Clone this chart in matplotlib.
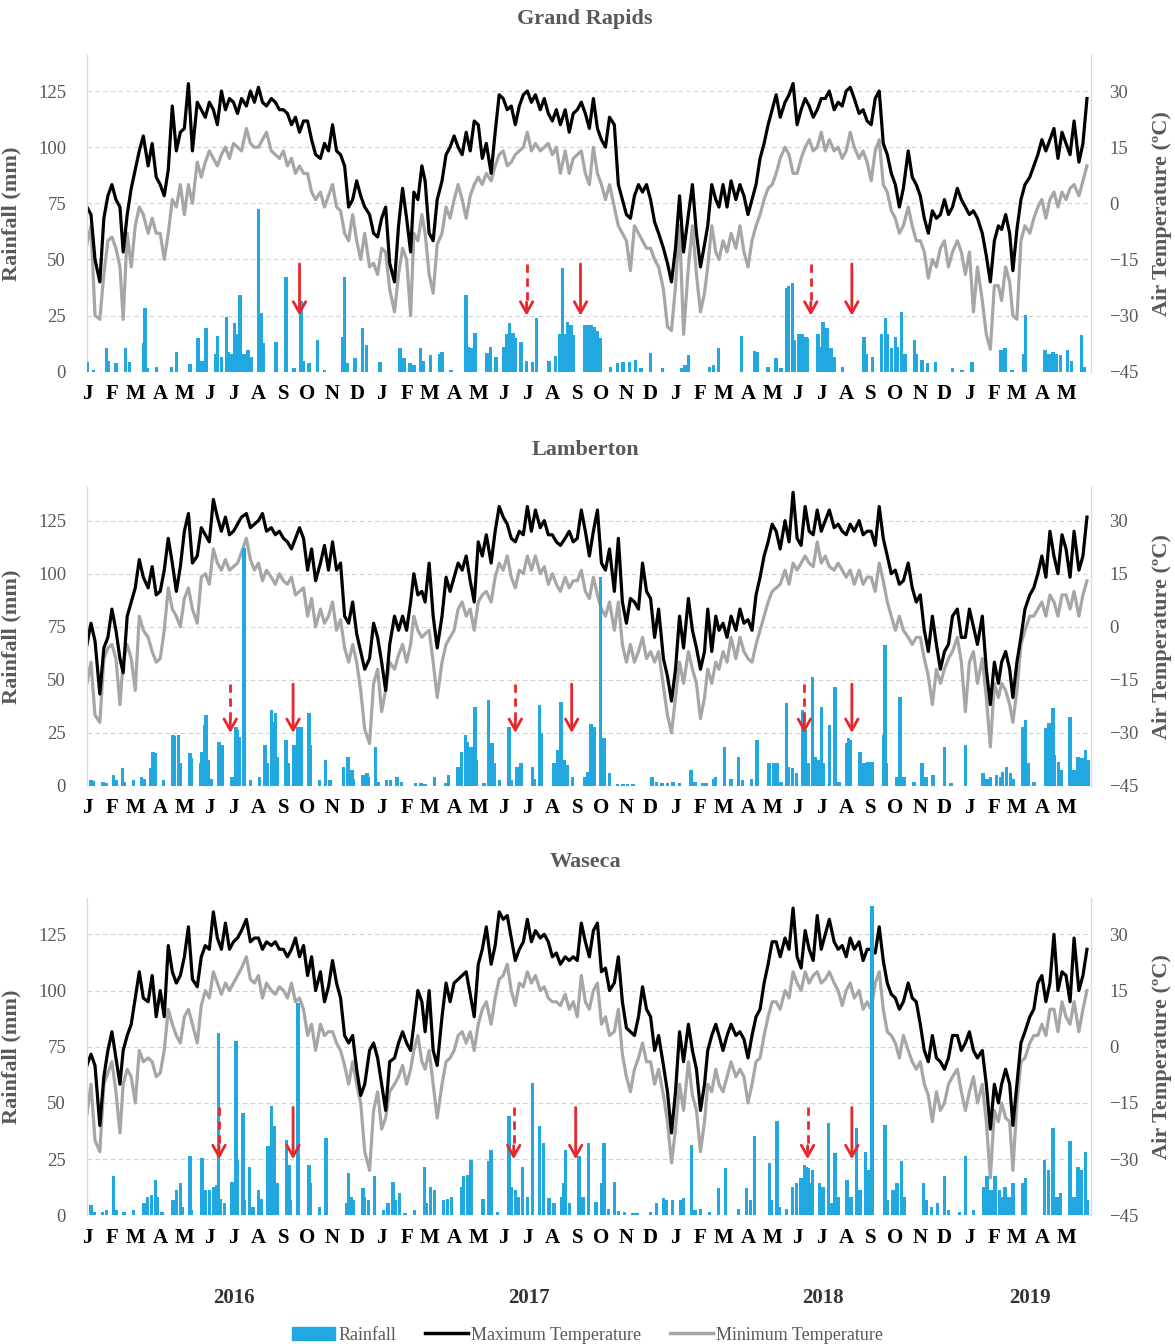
import numpy as np
import pandas as pd
import matplotlib
matplotlib.use('Agg')
import matplotlib.pyplot as plt
import matplotlib.dates as mdates
import matplotlib.transforms as mtrans
from matplotlib.patches import Patch
from matplotlib.lines import Line2D

plt.rcParams['font.family'] = ['Liberation Serif', 'DejaVu Serif']

sites = ['Grand Rapids', 'Lamberton', 'Waseca']
month_letters = list('JFMAMJJASOND')
years = ['2016', '2017', '2018', '2019']

# air temperature (C), 6 readings per month, Jan 2016 .. May 2019
gr_tmax = [-1, -3, -15, -21, -4, 2, 5, 1, -1, -13, -3, 4, 9, 14, 18, 10, 16, 7, 5, 2, 9, 26, 14, 19, 20, 32, 14, 27, 25, 23, 27, 25, 21, 30, 25, 28,
           27, 24, 28, 26, 30, 27, 31, 27, 26, 28, 27, 25, 25, 24, 21, 23, 19, 22, 22, 17, 13, 12, 16, 14, 21, 14, 13, 10, -1, 1, 6, 2, -1, -3, -8, -9,
           -4, -1, -16, -21, -6, 4, -4, -13, 3, 1, 10, 6, -8, -10, 1, 6, 13, 15, 18, 15, 13, 19, 14, 22, 21, 12, 16, 8, 19, 29, 28, 25, 26, 21, 26, 29,
           30, 27, 29, 25, 28, 24, 22, 25, 21, 25, 19, 24, 25, 27, 24, 20, 28, 20, 17, 15, 23, 21, 5, 1, -3, -4, 2, 5, 3, 5, 1, -5, -8, -12, -16, -21,
           -12, 2, -13, -3, 5, -8, -17, -11, -6, 5, 1, -1, 5, -1, 6, 1, 5, 2, -3, 1, 5, 12, 16, 21, 25, 29, 23, 27, 29, 32, 21, 25, 28, 26, 23, 25,
           28, 28, 30, 25, 27, 26, 30, 31, 28, 24, 25, 22, 21, 28, 30, 16, 13, 8, 5, -1, 4, 14, 7, 5, 2, -4, -8, -2, -4, -3, 1, -3, -1, 4, 1, -1,
           -3, -2, -4, -8, -14, -21, -10, -6, -7, -3, -8, -18, -7, 1, 5, 7, 10, 13, 17, 14, 17, 20, 12, 19, 16, 13, 22, 11, 16, 28]
gr_tmin = [-11, -6, -30, -31, -19, -10, -9, -12, -17, -31, -8, -17, -6, -1, -3, -8, -4, -8, -8, -15, -8, 1, -1, 5, -3, 5, 0, 11, 7, 11, 14, 12, 10, 13, 15, 12,
           16, 15, 14, 20, 16, 15, 15, 17, 19, 14, 13, 12, 14, 10, 12, 8, 10, 8, 8, 3, 1, 3, -1, 2, 5, -1, -2, -8, -10, -3, -10, -15, -8, -17, -16, -19,
           -12, -13, -23, -29, -19, -12, -15, -30, -8, -10, -3, -8, -19, -24, -11, -8, -1, -4, 1, 5, 1, -4, 2, 5, 7, 5, 8, 6, 10, 13, 14, 10, 11, 13, 14, 15,
           19, 14, 16, 14, 15, 16, 13, 15, 8, 14, 8, 12, 13, 14, 8, 5, 15, 8, 5, 1, 5, -1, -6, -8, -10, -18, -6, -8, -10, -12, -12, -15, -17, -23, -33, -34,
           -22, -6, -35, -17, -6, -19, -29, -24, -17, -6, -13, -15, -10, -13, -8, -12, -6, -13, -17, -10, -6, -3, 1, 4, 5, 8, 12, 15, 13, 8, 8, 12, 15, 17, 14, 15,
           19, 14, 17, 14, 15, 12, 14, 19, 15, 12, 14, 11, 6, 14, 17, 5, 3, -2, -4, -8, -6, -1, -6, -10, -10, -13, -20, -15, -17, -12, -10, -17, -13, -10, -13, -19,
           -13, -29, -17, -26, -35, -39, -22, -22, -26, -17, -21, -30, -31, -10, -6, -8, -4, -1, 1, -4, 1, 3, -1, 3, 1, 4, 5, 2, 6, 10]

lam_tmax = [-5, 1, -4, -19, -6, -3, 5, -1, -9, -13, 3, 7, 11, 19, 14, 11, 17, 9, 10, 16, 25, 18, 10, 17, 27, 32, 18, 20, 28, 26, 24, 36, 31, 27, 31, 26,
            27, 29, 31, 32, 28, 29, 30, 32, 27, 28, 26, 27, 25, 24, 22, 25, 28, 25, 16, 22, 13, 18, 23, 16, 24, 16, 18, 3, 1, 7, -2, -7, -12, -9, 1, -3,
            -10, -18, -5, 3, -1, 3, -1, 7, 15, 9, 10, 7, 18, 3, -6, 3, 14, 10, 14, 18, 16, 20, 13, 7, 24, 20, 26, 18, 27, 34, 31, 29, 25, 24, 27, 26,
            34, 27, 33, 28, 30, 26, 26, 24, 23, 25, 27, 24, 25, 33, 27, 20, 27, 33, 18, 16, 22, 10, 25, 7, 1, 8, 7, 5, 18, 10, 8, -3, 5, -9, -14, -21,
            -12, 3, -6, 8, -1, -6, -12, -7, 5, -7, 3, -1, 1, -3, 3, -1, 5, 1, 2, -1, 9, 14, 20, 24, 29, 27, 22, 30, 24, 38, 25, 23, 34, 27, 26, 33,
            27, 30, 33, 28, 29, 27, 26, 29, 27, 30, 26, 27, 27, 23, 34, 25, 20, 15, 16, 12, 13, 18, 11, 7, 9, -1, -7, 3, -5, -12, -7, -5, 3, 5, -3, -3,
            5, 0, -5, 3, -12, -22, -10, -16, -10, -7, -12, -20, -10, -3, 5, 9, 11, 15, 20, 14, 27, 20, 15, 26, 22, 14, 27, 16, 20, 31]
lam_tmin = [-16, -10, -25, -27, -9, -6, -5, -9, -22, -10, -5, -9, -18, 3, -1, -3, -7, -10, -9, -1, 11, 5, 3, 0, 8, 11, 5, 1, 14, 15, 12, 22, 18, 16, 19, 16,
            17, 18, 21, 25, 19, 16, 18, 13, 16, 14, 12, 15, 13, 12, 14, 9, 10, 11, 3, 8, 0, 5, 1, 3, 7, -1, 2, -6, -10, -5, -10, -18, -29, -33, -16, -12,
            -24, -18, -10, -12, -8, -5, -10, -5, 3, -1, -3, -2, -1, -10, -20, -10, -5, -3, -1, 5, 7, 3, 5, -1, 7, 9, 10, 7, 14, 18, 16, 20, 14, 11, 16, 15,
            20, 16, 20, 15, 17, 12, 15, 12, 10, 14, 11, 13, 13, 16, 10, 8, 14, 9, 5, 3, 7, -1, 7, -5, -10, -5, -10, -7, -3, -9, -7, -10, -7, -17, -25, -30,
            -20, -10, -16, -7, -12, -16, -26, -20, -12, -16, -10, -12, -7, -10, -3, -9, -3, -7, -9, -10, -5, -1, 3, 7, 10, 11, 12, 16, 12, 18, 16, 18, 20, 18, 17, 24,
            18, 20, 17, 16, 18, 16, 14, 16, 12, 16, 12, 14, 14, 10, 18, 13, 7, 3, -1, 3, -1, -3, -5, -3, -3, -9, -14, -22, -12, -16, -12, -9, -7, -3, -10, -24,
            -10, -7, -16, -9, -20, -34, -16, -20, -16, -18, -22, -27, -18, -5, -1, 3, 3, 5, 7, 3, 9, 7, 3, 9, 9, 5, 10, 3, 9, 13]

was_tmax = [-5, -2, -5, -21, -8, -1, 4, -3, -10, -1, 3, 6, 13, 20, 13, 12, 19, 8, 15, 8, 27, 20, 17, 19, 24, 32, 18, 16, 24, 27, 26, 36, 29, 26, 33, 26,
            28, 29, 31, 34, 28, 29, 29, 26, 28, 27, 28, 26, 26, 24, 26, 29, 24, 27, 19, 24, 15, 20, 12, 16, 23, 17, 13, 3, 1, 3, -6, -13, -10, -1, 1, -3,
            -10, -17, -4, -3, 1, 4, 1, -1, 6, 15, 12, 4, 15, -1, -5, 8, 17, 12, 17, 18, 19, 20, 14, 8, 22, 26, 32, 22, 27, 36, 34, 35, 29, 23, 26, 28,
            34, 28, 31, 29, 30, 28, 24, 25, 22, 24, 23, 24, 23, 33, 28, 24, 31, 33, 20, 21, 15, 17, 24, 12, 5, 4, 3, 8, 16, 10, 8, -1, 3, -5, -12, -23,
            -12, 4, -4, 6, -1, -6, -17, -10, -1, 3, 6, 3, -1, 3, 6, 3, 4, 2, -3, 3, 8, 10, 17, 22, 28, 28, 24, 29, 26, 37, 24, 21, 31, 26, 23, 35,
            26, 30, 34, 28, 26, 27, 24, 29, 26, 28, 23, 26, 26, 25, 32, 23, 17, 14, 13, 10, 12, 17, 13, 12, 6, -1, -4, 3, -3, -4, -6, -3, 3, 3, -1, 1,
            4, -1, -3, -1, -10, -22, -10, -15, -10, -6, -10, -21, -10, 1, 4, 8, 10, 17, 19, 12, 17, 30, 15, 20, 19, 12, 29, 15, 19, 26]
was_tmin = [-18, -10, -25, -28, -10, -7, -4, -12, -23, -10, -6, -8, -15, -1, -4, -3, -4, -8, -7, -1, 10, 6, 3, 1, 8, 10, 6, 1, 11, 15, 13, 20, 17, 14, 17, 15,
            17, 19, 21, 24, 18, 17, 19, 13, 17, 15, 14, 16, 15, 13, 17, 12, 13, 10, 3, 6, -1, 6, 3, 4, 4, 1, -1, -5, -10, -4, -10, -15, -28, -33, -17, -12,
            -22, -19, -12, -10, -8, -5, -10, -6, -1, 3, -4, -6, -1, -10, -19, -10, -4, -3, -1, 3, 4, 1, 4, -1, 6, 10, 12, 6, 13, 18, 19, 22, 15, 11, 17, 16,
            20, 17, 19, 15, 16, 13, 12, 12, 11, 14, 10, 12, 8, 19, 12, 10, 15, 17, 6, 8, 3, 4, 10, -2, -8, -12, -6, -3, 1, -4, -4, -10, -6, -13, -20, -31,
            -22, -10, -17, -4, -13, -17, -28, -20, -10, -12, -6, -10, -12, -8, -4, -8, -6, -8, -15, -10, -4, -3, 3, 8, 12, 12, 10, 15, 13, 20, 17, 15, 20, 17, 19, 20,
            17, 18, 20, 17, 15, 11, 15, 17, 13, 15, 10, 12, 10, 17, 20, 10, 4, 3, 1, -3, 3, -1, -4, -6, -4, -10, -13, -20, -12, -17, -15, -10, -8, -6, -12, -17,
            -12, -8, -15, -10, -20, -35, -17, -20, -15, -19, -20, -33, -15, -4, -3, 1, 3, 3, 6, 3, 10, 10, 4, 12, 8, 6, 12, 4, 10, 15]

# daily rainfall events (date, mm)
gr_rain = [('2016-01-02', 4.5), ('2016-01-09', 1), ('2016-01-25', 10.4), ('2016-01-27', 5), ('2016-02-06', 3.7), ('2016-02-18', 10.4),
           ('2016-02-23', 4.5), ('2016-03-11', 12.6), ('2016-03-13', 28.3), ('2016-03-16', 1.5), ('2016-03-27', 2.2), ('2016-04-15', 2),
           ('2016-04-21', 9), ('2016-05-08', 3.4), ('2016-05-18', 15), ('2016-05-22', 5), ('2016-05-26', 5), ('2016-05-28', 19.4),
           ('2016-06-09', 8), ('2016-06-11', 16), ('2016-06-16', 6.7), ('2016-06-22', 24.6), ('2016-06-25', 9), ('2016-06-28', 8),
           ('2016-07-02', 21.6), ('2016-07-05', 17), ('2016-07-09', 34.2), ('2016-07-14', 8), ('2016-07-19', 9.7), ('2016-07-23', 6.7),
           ('2016-08-01', 72.5), ('2016-08-04', 26), ('2016-08-07', 12.6), ('2016-08-23', 13.4), ('2016-09-04', 42.4), ('2016-09-14', 1.5),
           ('2016-09-23', 31.3), ('2016-09-26', 5), ('2016-10-03', 3.7), ('2016-10-13', 14), ('2016-10-22', 1), ('2016-11-14', 15.6),
           ('2016-11-16', 42.4), ('2016-11-19', 4), ('2016-11-29', 6), ('2016-12-08', 19.4), ('2016-12-13', 12), ('2016-12-30', 4.5),
           ('2017-01-24', 10.4), ('2017-01-29', 6), ('2017-02-05', 3.7), ('2017-02-10', 3), ('2017-02-18', 10.4), ('2017-02-22', 5),
           ('2017-03-03', 7.4), ('2017-03-14', 7.9), ('2017-03-17', 9), ('2017-03-28', 1), ('2017-04-16', 34.2), ('2017-04-19', 11),
           ('2017-04-23', 10.4), ('2017-04-27', 17.1), ('2017-05-12', 8.2), ('2017-05-16', 11), ('2017-05-23', 6.7), ('2017-06-02', 11),
           ('2017-06-05', 17), ('2017-06-09', 21.6), ('2017-06-13', 17.1), ('2017-06-16', 15), ('2017-06-23', 13.4), ('2017-06-30', 5),
           ('2017-07-07', 4.5), ('2017-07-12', 23.8), ('2017-07-28', 5), ('2017-08-05', 7), ('2017-08-10', 17), ('2017-08-14', 46),
           ('2017-08-17', 17), ('2017-08-20', 22.3), ('2017-08-24', 20.8), ('2017-08-27', 16.4), ('2017-09-10', 21), ('2017-09-14', 21),
           ('2017-09-18', 21), ('2017-09-22', 20), ('2017-09-26', 18), ('2017-09-30', 15), ('2017-10-12', 2.2), ('2017-10-21', 4),
           ('2017-10-28', 4.5), ('2017-11-05', 4.5), ('2017-11-12', 5.2), ('2017-11-19', 1.5), ('2017-12-01', 8.2), ('2017-12-16', 1.5),
           ('2018-01-09', 1.5), ('2018-01-13', 3), ('2018-01-17', 7.4), ('2018-02-12', 2), ('2018-02-17', 3), ('2018-02-23', 10.4),
           ('2018-03-24', 16), ('2018-04-09', 9.4), ('2018-04-13', 9), ('2018-04-26', 2.2), ('2018-05-06', 6), ('2018-05-12', 1.5),
           ('2018-05-19', 37.2), ('2018-05-21', 38), ('2018-05-26', 39.4), ('2018-05-28', 14), ('2018-06-03', 17), ('2018-06-07', 17),
           ('2018-06-12', 15.6), ('2018-06-14', 15), ('2018-06-27', 17), ('2018-06-29', 11), ('2018-07-03', 22.3), ('2018-07-08', 19.4),
           ('2018-07-13', 10.4), ('2018-07-17', 6.7), ('2018-07-27', 2), ('2018-08-23', 15.6), ('2018-08-26', 8), ('2018-09-03', 6.7),
           ('2018-09-14', 17), ('2018-09-19', 23.8), ('2018-09-21', 17), ('2018-09-26', 10.4), ('2018-10-01', 15.6), ('2018-10-03', 11),
           ('2018-10-09', 26.8), ('2018-10-13', 8), ('2018-10-25', 14), ('2018-10-27', 8), ('2018-11-03', 5.2), ('2018-11-10', 3.7),
           ('2018-11-20', 4.5), ('2018-12-11', 1.5), ('2018-12-23', 1), ('2019-01-04', 4.5), ('2019-02-09', 9.7), ('2019-02-14', 10.4),
           ('2019-02-23', 1), ('2019-03-10', 8), ('2019-03-12', 25.3), ('2019-04-05', 9.7), ('2019-04-10', 8), ('2019-04-15', 9),
           ('2019-04-19', 8), ('2019-04-24', 7.4), ('2019-05-03', 9.7), ('2019-05-08', 5), ('2019-05-20', 16.4), ('2019-05-24', 2)]

lam_rain = [('2016-01-06', 2.8), ('2016-01-09', 2.5), ('2016-01-21', 2), ('2016-01-25', 1.2), ('2016-02-03', 5.2), ('2016-02-06', 2.8),
            ('2016-02-14', 8.3), ('2016-02-16', 2), ('2016-02-28', 2.8), ('2016-03-09', 4.4), ('2016-03-12', 3.5), ('2016-03-20', 8.3),
            ('2016-03-23', 16.2), ('2016-03-26', 15.7), ('2016-04-05', 2.8), ('2016-04-17', 24), ('2016-04-19', 23.5), ('2016-04-24', 24),
            ('2016-04-26', 10.7), ('2016-05-08', 15.4), ('2016-05-10', 13), ('2016-05-21', 10.7), ('2016-05-23', 16.2), ('2016-05-26', 28.7),
            ('2016-05-28', 33.4), ('2016-05-31', 12.2), ('2016-06-03', 3.5), ('2016-06-12', 20.9), ('2016-06-14', 20.9), ('2016-06-17', 19.3),
            ('2016-06-29', 4.4), ('2016-07-04', 28), ('2016-07-06', 26.4), ('2016-07-08', 23), ('2016-07-14', 112), ('2016-07-22', 2.8),
            ('2016-08-02', 4.4), ('2016-08-09', 19.3), ('2016-08-12', 10.7), ('2016-08-17', 35.8), ('2016-08-19', 30.3), ('2016-08-22', 34.2),
            ('2016-08-25', 13.8), ('2016-09-04', 21.7), ('2016-09-07', 10.7), ('2016-09-14', 19.3), ('2016-09-19', 28), ('2016-09-23', 28),
            ('2016-10-03', 34.2), ('2016-10-05', 19.3), ('2016-10-16', 2.8), ('2016-10-23', 12.2), ('2016-10-29', 2.8), ('2016-11-15', 9.1),
            ('2016-11-20', 13.8), ('2016-11-25', 7.5), ('2016-11-27', 3.5), ('2016-12-09', 5.2), ('2016-12-14', 6), ('2016-12-16', 4.4),
            ('2016-12-24', 18.2), ('2016-12-28', 2), ('2017-01-07', 3), ('2017-01-12', 2.8), ('2017-01-20', 4.4), ('2017-01-26', 2),
            ('2017-02-12', 1.2), ('2017-02-19', 1.2), ('2017-02-24', 1), ('2017-03-08', 4.4), ('2017-03-21', 1.2), ('2017-03-25', 5.2),
            ('2017-04-06', 9.1), ('2017-04-10', 16.2), ('2017-04-15', 24), ('2017-04-17', 20.8), ('2017-04-22', 18.5), ('2017-04-27', 37.4),
            ('2017-04-29', 12), ('2017-05-08', 1.6), ('2017-05-14', 40.5), ('2017-05-18', 20.1), ('2017-05-21', 10.7), ('2017-05-27', 2.8),
            ('2017-06-08', 28), ('2017-06-11', 2.8), ('2017-06-18', 9.1), ('2017-06-23', 10.7), ('2017-07-07', 9.1), ('2017-07-09', 3.5),
            ('2017-07-16', 38.1), ('2017-07-18', 24.8), ('2017-08-03', 10.7), ('2017-08-08', 17), ('2017-08-12', 39.7), ('2017-08-16', 12),
            ('2017-08-19', 10), ('2017-08-26', 4.4), ('2017-09-10', 4.4), ('2017-09-14', 6.8), ('2017-09-18', 29), ('2017-09-22', 28),
            ('2017-09-30', 98.6), ('2017-10-04', 22.4), ('2017-10-11', 6), ('2017-10-21', 1), ('2017-10-28', 1), ('2017-11-02', 1),
            ('2017-11-09', 1), ('2017-12-03', 4.4), ('2017-12-08', 2), ('2017-12-15', 1.5), ('2017-12-22', 1.5), ('2017-12-29', 2),
            ('2018-01-06', 1.2), ('2018-01-20', 7.5), ('2018-01-25', 2), ('2018-02-04', 1.5), ('2018-02-08', 1.2), ('2018-02-18', 3.5),
            ('2018-02-20', 4.4), ('2018-03-03', 18.5), ('2018-03-11', 3.5), ('2018-03-20', 13.8), ('2018-03-25', 2.8), ('2018-04-05', 3.5),
            ('2018-04-12', 21.7), ('2018-04-27', 10.7), ('2018-05-03', 10.7), ('2018-05-07', 10.7), ('2018-05-12', 2), ('2018-05-19', 38.9),
            ('2018-05-21', 9), ('2018-05-26', 8.3), ('2018-05-31', 6), ('2018-06-08', 35.8), ('2018-06-11', 26.4), ('2018-06-15', 10.7),
            ('2018-06-20', 51.5), ('2018-06-23', 13.8), ('2018-06-27', 12), ('2018-07-01', 37.4), ('2018-07-04', 10.7), ('2018-07-11', 28.7),
            ('2018-07-18', 46.8), ('2018-07-23', 2), ('2018-08-02', 20.1), ('2018-08-04', 22.4), ('2018-08-06', 21.5), ('2018-08-18', 16.2),
            ('2018-08-23', 10.7), ('2018-08-28', 11.5), ('2018-09-02', 11.5), ('2018-09-16', 24), ('2018-09-18', 66.4), ('2018-09-20', 10.7),
            ('2018-10-03', 4.4), ('2018-10-07', 42.1), ('2018-10-12', 4.4), ('2018-10-24', 2), ('2018-11-03', 10.7), ('2018-11-08', 4.4),
            ('2018-11-17', 5.2), ('2018-12-01', 18.5), ('2018-12-09', 1.2), ('2018-12-27', 19.3), ('2019-01-18', 6), ('2019-01-23', 3.5),
            ('2019-01-27', 4.4), ('2019-02-04', 5.2), ('2019-02-09', 4.4), ('2019-02-11', 6.8), ('2019-02-16', 9.1), ('2019-02-21', 6),
            ('2019-02-25', 3.5), ('2019-03-08', 28), ('2019-03-12', 31.1), ('2019-03-15', 10.7), ('2019-03-22', 2), ('2019-04-06', 27.2),
            ('2019-04-10', 29.5), ('2019-04-15', 36.6), ('2019-04-17', 14.5), ('2019-04-22', 11.5), ('2019-04-25', 7.5), ('2019-05-06', 32.7),
            ('2019-05-11', 7.5), ('2019-05-16', 13.8), ('2019-05-21', 13), ('2019-05-25', 17), ('2019-05-29', 12)]

was_rain = [('2016-01-06', 4.6), ('2016-01-10', 1.6), ('2016-01-20', 1.6), ('2016-01-25', 2.4), ('2016-02-03', 17.3), ('2016-02-06', 2.4),
            ('2016-02-16', 1.6), ('2016-02-28', 2.4), ('2016-03-12', 5.4), ('2016-03-16', 8.3), ('2016-03-21', 9), ('2016-03-26', 15.8),
            ('2016-03-28', 8), ('2016-04-03', 1.6), ('2016-04-17', 6.8), ('2016-04-21', 11.3), ('2016-04-26', 14.3), ('2016-04-28', 3.9),
            ('2016-05-08', 26.2), ('2016-05-10', 2.4), ('2016-05-23', 25.4), ('2016-05-27', 11.3), ('2016-06-01', 11.3), ('2016-06-06', 12.8),
            ('2016-06-10', 13.5), ('2016-06-12', 81.3), ('2016-06-15', 7.4), ('2016-06-20', 5.4), ('2016-06-29', 15), ('2016-07-04', 77.5),
            ('2016-07-06', 24.7), ('2016-07-13', 45.5), ('2016-07-15', 6.8), ('2016-07-21', 21.7), ('2016-07-25', 3.9), ('2016-08-01', 11.3),
            ('2016-08-05', 7.4), ('2016-08-12', 30.7), ('2016-08-15', 30.7), ('2016-08-17', 48.5), ('2016-08-21', 39.6), ('2016-08-24', 14.3),
            ('2016-09-05', 33.6), ('2016-09-08', 22.5), ('2016-09-10', 6.8), ('2016-09-19', 94.6), ('2016-10-03', 22.5), ('2016-10-05', 14.3),
            ('2016-10-16', 3.9), ('2016-10-24', 34.4), ('2016-11-18', 5.4), ('2016-11-21', 18.8), ('2016-11-24', 8.3), ('2016-11-27', 6.8),
            ('2016-12-09', 12), ('2016-12-11', 8.3), ('2016-12-16', 6.8), ('2016-12-23', 17.3), ('2017-01-03', 2.4), ('2017-01-09', 5.4),
            ('2017-01-15', 15), ('2017-01-18', 6.8), ('2017-01-23', 9.8), ('2017-01-30', 0.9), ('2017-02-11', 2.4), ('2017-02-23', 21.7),
            ('2017-02-26', 5.4), ('2017-03-03', 12.8), ('2017-03-08', 11.3), ('2017-03-19', 6.8), ('2017-03-24', 7.4), ('2017-03-29', 8.3),
            ('2017-04-10', 12.8), ('2017-04-13', 17.3), ('2017-04-18', 18), ('2017-04-22', 24.7), ('2017-05-07', 7.4), ('2017-05-14', 24),
            ('2017-05-17', 29.2), ('2017-05-25', 1.6), ('2017-06-08', 44), ('2017-06-11', 12.8), ('2017-06-16', 11.3), ('2017-06-20', 8.3),
            ('2017-06-25', 21.7), ('2017-07-01', 8.3), ('2017-07-07', 58.9), ('2017-07-16', 39.6), ('2017-07-21', 32.1), ('2017-07-28', 7.6),
            ('2017-08-03', 5.4), ('2017-08-13', 8.3), ('2017-08-15', 14.3), ('2017-08-17', 29.2), ('2017-08-22', 5.4), ('2017-09-03', 26.2),
            ('2017-09-08', 8.3), ('2017-09-15', 32.1), ('2017-09-24', 6), ('2017-10-01', 14.3), ('2017-10-04', 32.1), ('2017-10-10', 3),
            ('2017-10-17', 15), ('2017-10-22', 2), ('2017-10-30', 1.5), ('2017-11-09', 1), ('2017-11-14', 1), ('2017-12-01', 1.5),
            ('2017-12-08', 5.4), ('2017-12-17', 7.6), ('2017-12-21', 6.8), ('2017-12-28', 6.8), ('2018-01-08', 6.8), ('2018-01-11', 7.6),
            ('2018-01-21', 31.4), ('2018-01-25', 2.4), ('2018-02-01', 3), ('2018-02-12', 1.5), ('2018-02-23', 12), ('2018-03-04', 21),
            ('2018-03-20', 3), ('2018-03-30', 12), ('2018-04-04', 6.8), ('2018-04-09', 35.1), ('2018-04-28', 23.2), ('2018-04-30', 6.8),
            ('2018-05-07', 41.8), ('2018-05-10', 3.9), ('2018-05-19', 3), ('2018-05-26', 12.8), ('2018-05-31', 14.3), ('2018-06-06', 16.5),
            ('2018-06-10', 22.5), ('2018-06-13', 21.7), ('2018-06-15', 21), ('2018-06-17', 14.3), ('2018-06-20', 20.2), ('2018-06-29', 14.3),
            ('2018-07-03', 12.8), ('2018-07-10', 41), ('2018-07-13', 5.4), ('2018-07-18', 27.7), ('2018-07-22', 8.3), ('2018-08-02', 15.8),
            ('2018-08-07', 8.3), ('2018-08-14', 38.8), ('2018-08-18', 11.3), ('2018-08-25', 28.4), ('2018-08-29', 20.2), ('2018-09-02', 137.8),
            ('2018-09-18', 40.3), ('2018-09-21', 6.8), ('2018-09-28', 11.3), ('2018-10-03', 14.3), ('2018-10-09', 24), ('2018-10-12', 8.3),
            ('2018-11-05', 14.3), ('2018-11-08', 6.8), ('2018-11-15', 3.9), ('2018-11-22', 5.4), ('2018-12-01', 17.3), ('2018-12-06', 2.4),
            ('2018-12-20', 1.6), ('2018-12-27', 26.2), ('2019-01-06', 2.4), ('2019-01-19', 12.8), ('2019-01-23', 17.3), ('2019-01-28', 11.3),
            ('2019-02-02', 17.3), ('2019-02-07', 11.3), ('2019-02-09', 8.3), ('2019-02-14', 12.8), ('2019-02-19', 8.3), ('2019-02-24', 14.3),
            ('2019-03-08', 14.3), ('2019-03-12', 16.5), ('2019-04-04', 24.7), ('2019-04-09', 20.2), ('2019-04-15', 38.8), ('2019-04-20', 8.3),
            ('2019-04-24', 9.8), ('2019-05-06', 32.9), ('2019-05-11', 8.3), ('2019-05-16', 21.7), ('2019-05-20', 20.2), ('2019-05-25', 28.4),
            ('2019-05-27', 6.8)]

# red arrows: solid and dashed
gr_solid = ['2016-09-21', '2017-09-05', '2018-08-08']
gr_dashed = ['2017-06-30', '2018-06-18']
lam_solid = ['2016-09-13', '2017-08-25', '2018-08-08']
lam_dashed = ['2016-06-27', '2017-06-16', '2018-06-10']
was_solid = ['2016-09-13', '2017-08-30', '2018-08-08']
was_dashed = ['2016-06-13', '2017-06-14', '2018-06-14']

tmax_all = [gr_tmax, lam_tmax, was_tmax]
tmin_all = [gr_tmin, lam_tmin, was_tmin]
rain_all = [gr_rain, lam_rain, was_rain]
solid_all = [gr_solid, lam_solid, was_solid]
dashed_all = [gr_dashed, lam_dashed, was_dashed]

blue = '#22A8E0'
red = '#E8262B'
grey_txt = '#595959'
grey_line = '#A6A6A6'

months = pd.date_range('2016-01-01', '2019-05-01', freq='MS')
tdates = []
for m in months:
    nd = m.days_in_month
    for k in range(6):
        tdates.append(m + pd.Timedelta(days=int(round(k * nd / 6))))
tx = mdates.date2num(pd.DatetimeIndex(tdates).to_pydatetime())
mx = mdates.date2num(months.to_pydatetime())
x0 = mdates.date2num(pd.Timestamp('2016-01-01').to_pydatetime())
x1 = mdates.date2num(pd.Timestamp('2019-06-01').to_pydatetime())

fig = plt.figure(figsize=(11.75, 13.44), dpi=100)
boxes = [(0.074, 0.7234, 0.8545, 0.2356), (0.074, 0.4152, 0.8545, 0.2227), (0.074, 0.0957, 0.8545, 0.2359)]
title_y = [0.9859, 0.6652, 0.3586]
rmax = 141
head = '->,head_length=0.8,head_width=0.45'

for i in range(3):
    ax = fig.add_axes(boxes[i])
    ax2 = ax.twinx()
    ax.set_zorder(ax2.get_zorder() + 1)
    ax.patch.set_visible(False)

    # temperature
    ax2.plot(tx, tmin_all[i], color=grey_line, lw=2.3, zorder=2)
    ax2.plot(tx, tmax_all[i], color='black', lw=2.3, zorder=3)
    ax2.set_ylim(-45, -45 + 0.6 * rmax)
    ax2.set_yticks([-45, -30, -15, 0, 15, 30])
    ax2.grid(axis='y', color='#D0D0D0', ls=(0, (4, 3)), lw=0.8)
    ax2.set_axisbelow(True)
    ax2.tick_params(axis='y', length=0, pad=13, labelsize=13.5, labelcolor=grey_txt)
    ax2.set_ylabel('Air Temperature (ºC)', fontsize=16, fontweight='bold', color=grey_txt, rotation=90)
    ax2.yaxis.set_label_coords(1.061, 0.5)

    # rainfall
    rd = mdates.date2num(pd.to_datetime([d for d, v in rain_all[i]]).to_pydatetime())
    rv = [v for d, v in rain_all[i]]
    ax.bar(rd, rv, width=4.2, color=blue, linewidth=0, zorder=3)
    ax.set_ylim(0, rmax)
    ax.set_yticks([0, 25, 50, 75, 100, 125])
    ax.tick_params(axis='y', length=0, pad=15, labelsize=13.5, labelcolor=grey_txt)
    ax.set_ylabel('Rainfall (mm)', fontsize=16, fontweight='bold', color=grey_txt)
    ax.yaxis.set_label_coords(-0.065, 0.5)

    # arrows
    for d in solid_all[i]:
        x = mdates.date2num(pd.Timestamp(d).to_pydatetime())
        ax.annotate('', xy=(x, 25), xytext=(x, 48),
                    arrowprops=dict(arrowstyle=head, color=red, lw=2, shrinkA=0, shrinkB=0), zorder=5)
    for d in dashed_all[i]:
        x = mdates.date2num(pd.Timestamp(d).to_pydatetime())
        ax.plot([x, x], [48, 31], color=red, lw=2, ls=(0, (3, 2)), zorder=5)
        ax.annotate('', xy=(x, 25), xytext=(x, 31),
                    arrowprops=dict(arrowstyle=head, color=red, lw=2, shrinkA=0, shrinkB=0), zorder=5)

    ax.set_xlim(x0, x1)
    ax.set_xticks(mx)
    ax.set_xticklabels([month_letters[m.month - 1] for m in months], fontsize=15, fontweight='bold')
    ax.tick_params(axis='x', length=0, pad=9)
    for a in (ax, ax2):
        a.spines['top'].set_visible(False)
        a.spines['bottom'].set_visible(False)
        a.spines['left'].set_color('#D9D9D9')
        a.spines['right'].set_color('#D9D9D9')

    fig.text(0.498, title_y[i], sites[i], ha='center', va='center', fontsize=16, fontweight='bold', color=grey_txt)

# year labels under the last panel
trans = mtrans.blended_transform_factory(ax.transData, fig.transFigure)
ystarts = ['2016-01-01', '2017-01-01', '2018-01-01', '2019-01-01']
yends = ['2017-01-01', '2018-01-01', '2019-01-01', '2019-06-01']
for y, s, e in zip(years, ystarts, yends):
    xs = mdates.date2num(pd.Timestamp(s).to_pydatetime())
    xe = mdates.date2num(pd.Timestamp(e).to_pydatetime())
    fig.text((xs + xe) / 2, 1 - 1298 / 1344, y, transform=trans, ha='center', va='center',
             fontsize=15, fontweight='bold', color='#333333')

handles = [Patch(color=blue), Line2D([], [], color='black', lw=2.5), Line2D([], [], color=grey_line, lw=2.5)]
labels = ['Rainfall', 'Maximum Temperature', 'Minimum Temperature']
leg = fig.legend(handles, labels, loc='center', bbox_to_anchor=(0.5, 1 - 1335 / 1344), ncol=3, frameon=False,
                 fontsize=13, handlelength=2.4, handletextpad=0.15, columnspacing=1.6)
for t in leg.get_texts():
    t.set_color(grey_txt)

fig.savefig('out.png', dpi=100)
